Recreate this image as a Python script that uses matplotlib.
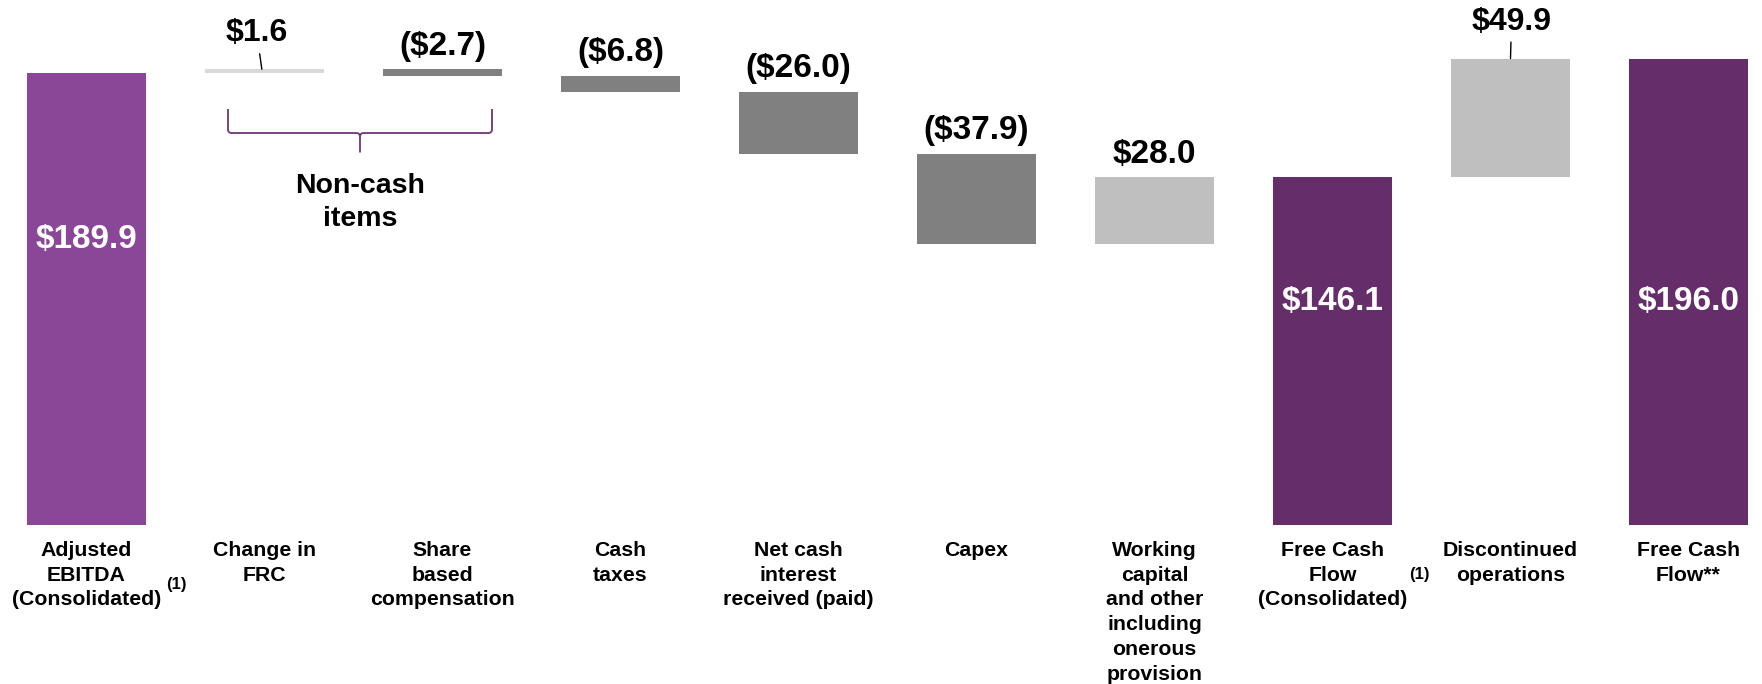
import matplotlib
matplotlib.use("Agg")
import matplotlib.pyplot as plt
from matplotlib.path import Path
from matplotlib.patches import PathPatch

plt.rcParams['font.family'] = ['Liberation Sans', 'DejaVu Sans']

# ---------------- data ----------------
categories = ["Adjusted\nEBITDA\n(Consolidated)", "Change in\nFRC", "Share\nbased\ncompensation",
              "Cash\ntaxes", "Net cash\ninterest\nreceived (paid)", "Capex",
              "Working\ncapital\nand other\nincluding\nonerous\nprovision",
              "Free Cash\nFlow\n(Consolidated)", "Discontinued\noperations", "Free Cash\nFlow**"]
values = [189.9, 1.6, -2.7, -6.8, -26.0, -37.9, 28.0, 146.1, 49.9, 196.0]
is_total = [True, False, False, False, False, False, False, True, False, True]
value_labels = ["$189.9", "$1.6", "($2.7)", "($6.8)", "($26.0)", "($37.9)", "$28.0",
                "$146.1", "$49.9", "$196.0"]
footnotes = ["(1)", "", "", "", "", "", "", "(1)", "", ""]
bar_colors = ["#8B4797", "#D9D9D9", "#808080", "#808080", "#808080", "#808080",
              "#BFBFBF", "#662D6B", "#BFBFBF", "#662D6B"]
bracket_text = "Non-cash\nitems"

# ---------------- waterfall geometry ----------------
bottoms, heights = [], []
running = 0.0
for v, tot in zip(values, is_total):
    if tot:
        bottoms.append(0.0)
        heights.append(v)
        running = v
    else:
        bottoms.append(running if v >= 0 else running + v)
        heights.append(abs(v))
        running += v
tops = [b + h for b, h in zip(bottoms, heights)]

W, H = 1762, 684
fig = plt.figure(figsize=(W / 100, H / 100), dpi=100)
base_px = 525.0
ax = fig.add_axes([0, (H - base_px) / H, 1, base_px / H])
px_per_unit = 2.38
spacing = 178.0
x0 = 86.5
ax.set_xlim(-x0 / spacing, (W - x0) / spacing)
ax.set_ylim(0, base_px / px_per_unit)
ax.axis('off')

xs = list(range(len(values)))
ax.bar(xs, heights, bottom=bottoms, width=0.67, color=bar_colors, linewidth=0)

# value labels
inner_y = {0: 120.0, 7: 94.0, 9: 94.0}
leaders = {1: (-5, 36), 8: (1, 37)}
for i in xs:
    if is_total[i]:
        ax.text(i, inner_y[i], value_labels[i], ha='center', va='center',
                color='white', fontsize=24, fontweight='bold')
    elif i in leaders:
        ax.annotate(value_labels[i], xy=(i + (0.0 if i == 8 else -0.015), tops[i]),
                    xytext=leaders[i], textcoords='offset pixels',
                    ha='center', va='center', fontsize=23, fontweight='bold',
                    arrowprops=dict(arrowstyle='-', color='black', lw=1,
                                    shrinkA=2, shrinkB=0))
    else:
        ax.annotate(value_labels[i], xy=(i, tops[i]), xytext=(0, 23),
                    textcoords='offset pixels', ha='center', va='center',
                    fontsize=24, fontweight='bold')

# category labels
for i in xs:
    ax.annotate(categories[i], xy=(i, 0), xytext=(0, -16), textcoords='offset pixels',
                ha='center', va='top', fontsize=15.3, fontweight='bold',
                linespacing=1.38, annotation_clip=False)
    if footnotes[i]:
        off = (90, -59) if i == 0 else (87, -50)
        ax.annotate(footnotes[i], xy=(i, 0), xytext=off, textcoords='offset pixels',
                    ha='center', va='center', fontsize=12, fontweight='bold',
                    annotation_clip=False)

# brace for non-cash items
L, R = 0.795, 2.278
C = (L + R) / 2
ytop, yh, ytip = 174.8, 164.7, 156.5
r, rx = 1.6, 0.02
verts = [(L, ytop), (L, yh + r), (L, yh), (L + rx, yh), (C - rx, yh), (C, yh), (C, yh - r),
         (C, ytip), (C, yh - r), (C, yh), (C + rx, yh), (R - rx, yh), (R, yh), (R, yh + r),
         (R, ytop)]
codes = [Path.MOVETO, Path.LINETO, Path.CURVE3, Path.CURVE3, Path.LINETO, Path.CURVE3,
         Path.CURVE3, Path.LINETO, Path.MOVETO, Path.CURVE3, Path.CURVE3, Path.LINETO,
         Path.CURVE3, Path.CURVE3, Path.LINETO]
ax.add_patch(PathPatch(Path(verts, codes), fill=False, edgecolor='#6F3577', lw=1.3,
                       capstyle='butt'))
ax.text(C, 135.5, bracket_text, ha='center', va='center', fontsize=20.5,
        fontweight='bold', linespacing=1.38)

fig.savefig("out.png", dpi=100)
